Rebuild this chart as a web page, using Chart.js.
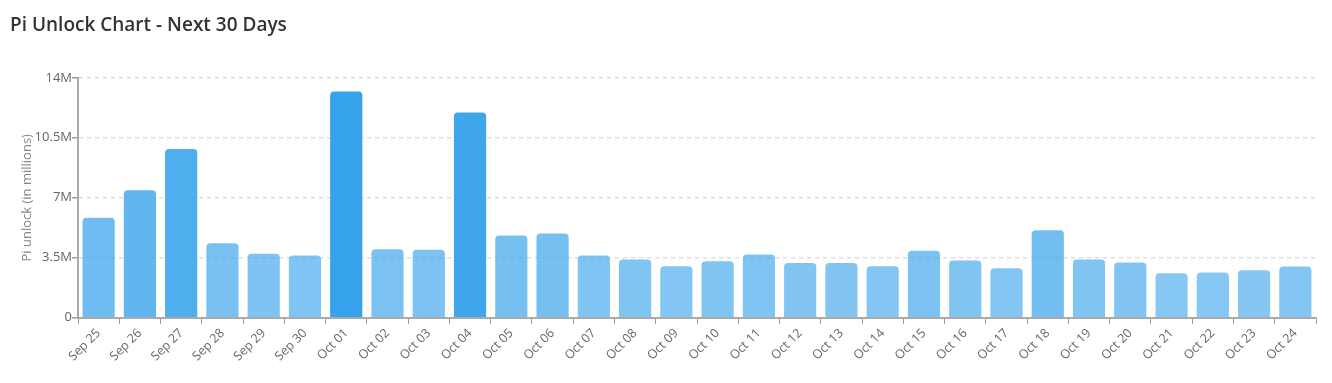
<!DOCTYPE html>
<html>
<head>
<meta charset="utf-8">
<script src="https://cdn.jsdelivr.net/npm/chart.js@4/dist/chart.umd.min.js"></script>
<style>
  html, body { margin: 0; padding: 0; background: #fff; }
  #wrap { width: 1332px; height: 383px; position: relative; }
</style>
</head>
<body>
<div id="wrap"><canvas id="chart"></canvas></div>
<script>
// unlock dates (next 30 days)
const days = [
  'Sep 25', 'Sep 26', 'Sep 27', 'Sep 28', 'Sep 29', 'Sep 30',
  'Oct 01', 'Oct 02', 'Oct 03', 'Oct 04', 'Oct 05', 'Oct 06',
  'Oct 07', 'Oct 08', 'Oct 09', 'Oct 10', 'Oct 11', 'Oct 12',
  'Oct 13', 'Oct 14', 'Oct 15', 'Oct 16', 'Oct 17', 'Oct 18',
  'Oct 19', 'Oct 20', 'Oct 21', 'Oct 22', 'Oct 23', 'Oct 24'
];

// Pi unlocked per day, in millions
const unlock = [
  5.84, 7.44, 9.84, 4.35, 3.73, 3.63,
  13.2, 4.0, 3.97, 11.97, 4.80, 4.92,
  3.63, 3.40, 3.01, 3.30, 3.69, 3.20,
  3.20, 3.01, 3.91, 3.34, 2.89, 5.11,
  3.40, 3.22, 2.60, 2.64, 2.77, 2.99
];

const yTicks = [0, 3.5, 7, 10.5, 14];

// darker bars for bigger unlocks
const lo = Math.min(...unlock), hi = Math.max(...unlock);
const barColors = unlock.map(v => {
  const a = 0.6 + 0.4 * (v - lo) / (hi - lo);
  return 'rgba(54, 162, 235, ' + a.toFixed(3) + ')';
});

const font = 'Open Sans, "Segoe UI", sans-serif';

new Chart(document.getElementById('chart'), {
  type: 'bar',
  data: {
    labels: days,
    datasets: [{
      label: 'Pi unlock',
      data: unlock,
      backgroundColor: barColors,
      borderRadius: 4,
      borderSkipped: 'start',
      barPercentage: 0.78,
      categoryPercentage: 1
    }]
  },
  options: {
    responsive: true,
    maintainAspectRatio: false,
    animation: false,
    layout: { padding: { top: 6, right: 16, left: 10, bottom: 17 } },
    plugins: {
      legend: { display: false },
      tooltip: { enabled: false },
      title: {
        display: true,
        text: 'Pi Unlock Chart - Next 30 Days',
        align: 'start',
        color: '#333',
        font: { family: font, size: 19, weight: '600' },
        padding: { top: 8, bottom: 41 }
      }
    },
    scales: {
      x: {
        grid: {
          display: true,
          drawOnChartArea: false,
          drawTicks: true,
          tickLength: 6,
          color: '#999'
        },
        border: { display: true, color: '#aaa', width: 2 },
        ticks: {
          color: '#666',
          font: { family: font, size: 12.5 },
          maxRotation: 45,
          minRotation: 45,
          autoSkip: false,
          padding: 2
        }
      },
      y: {
        min: 0,
        max: 14,
        afterBuildTicks: axis => { axis.ticks = yTicks.map(v => ({ value: v })); },
        grid: {
          color: '#ddd',
          tickBorderDash: [],
          tickColor: '#999',
          tickLength: 6,
          lineWidth: 1.5
        },
        border: { display: true, color: '#aaa', width: 2, dash: [4, 4] },
        ticks: {
          color: '#666',
          font: { family: font, size: 13 },
          padding: 0,
          callback: v => v === 0 ? '0' : v + 'M'
        },
        title: {
          display: true,
          text: 'Pi unlock (in millions)',
          color: '#888',
          font: { family: font, size: 13 },
          padding: { top: 9, bottom: 0 }
        }
      }
    }
  }
});
</script>
</body>
</html>
